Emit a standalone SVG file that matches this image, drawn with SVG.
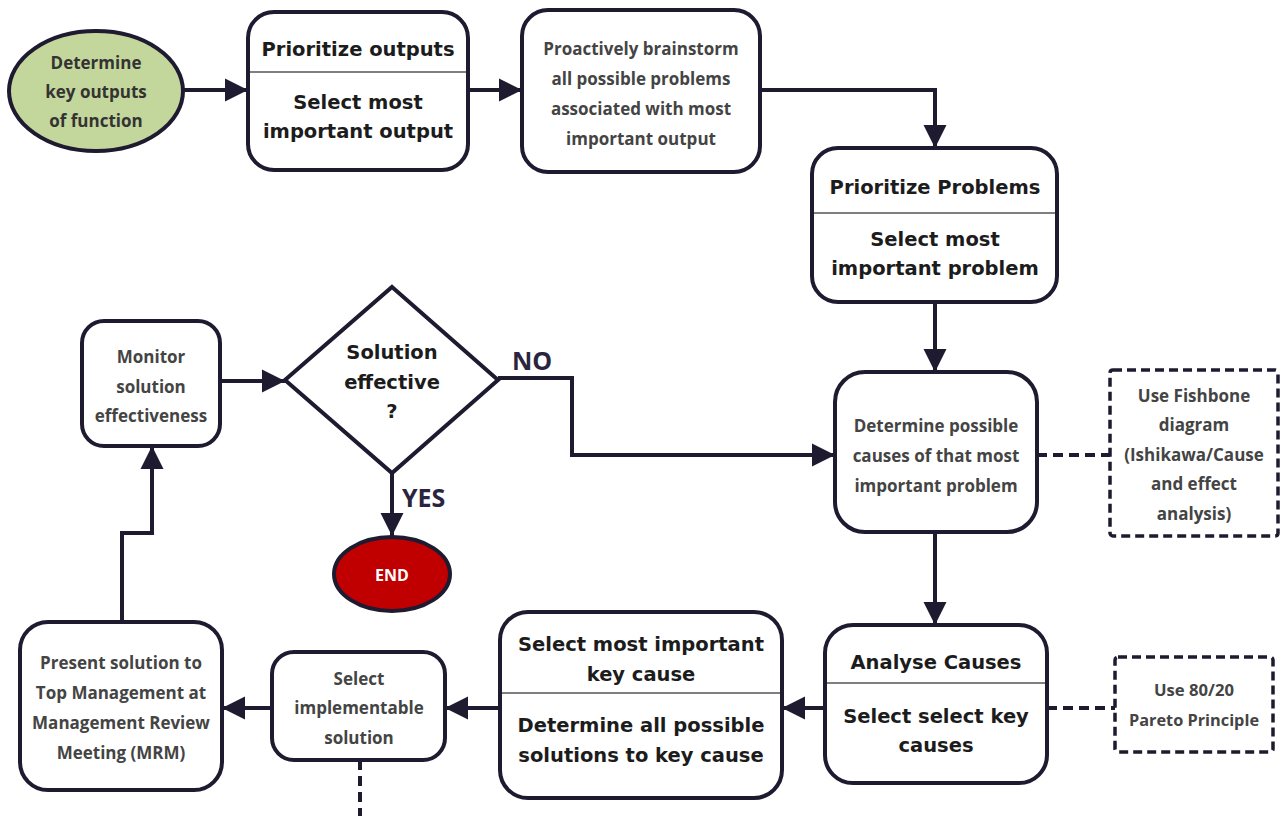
<svg xmlns="http://www.w3.org/2000/svg" width="1285" height="816" viewBox="0 0 1285 816">
  <style>
    .box { fill: #ffffff; stroke: #1e1a30; stroke-width: 4; }
    .note { fill: #ffffff; stroke: #1e1a30; stroke-width: 3.5; stroke-dasharray: 9 5; }
    .div { stroke: #555; stroke-width: 1.5; }
    .wire { fill: none; stroke: #1e1a30; stroke-width: 4; }
    .dash { fill: none; stroke: #1e1a30; stroke-width: 4; stroke-dasharray: 10 6; }
    .t { font-family: "Open Sans", "Liberation Sans", sans-serif; font-weight: 700; font-size: 17px; fill: #444; text-anchor: middle; dominant-baseline: central; }
    .h { font-family: "DejaVu Sans", "Liberation Sans", sans-serif; font-weight: bold; font-size: 19.5px; fill: #1c1c1c; text-anchor: middle; dominant-baseline: central; }
    .lbl { font-family: "Open Sans", "Liberation Sans", sans-serif; font-weight: bold; font-size: 25px; fill: #2a2440; dominant-baseline: central; }
  </style>
  <defs>
    <marker id="arrow" viewBox="0 0 10 10" refX="10" refY="5" markerWidth="5.8" markerHeight="6.2" markerUnits="strokeWidth" orient="auto">
      <path d="M0,0 L10,5 L0,10 z" fill="#1e1a30"/>
    </marker>
  </defs>

  <rect width="1285" height="816" fill="#ffffff"/>

  <!-- connectors -->
  <g id="connectors">
    <path class="wire" d="M183,90 H248" marker-end="url(#arrow)"/>
    <path class="wire" d="M468,90 H522" marker-end="url(#arrow)"/>
    <path class="wire" d="M760,90 H935 V148" marker-end="url(#arrow)"/>
    <path class="wire" d="M935,302 V372" marker-end="url(#arrow)"/>
    <path class="wire" d="M935,532 V625" marker-end="url(#arrow)"/>
    <path class="wire" d="M825,708 H782" marker-end="url(#arrow)"/>
    <path class="wire" d="M500,708 H445" marker-end="url(#arrow)"/>
    <path class="wire" d="M272,708 H222" marker-end="url(#arrow)"/>
    <path class="wire" d="M122,622 V533 H152 V446" marker-end="url(#arrow)"/>
    <path class="wire" d="M220,381 H285" marker-end="url(#arrow)"/>
    <path class="wire" d="M498,378 H572 V455 H835" marker-end="url(#arrow)"/>
    <path class="wire" d="M392,473 V536" marker-end="url(#arrow)"/>
    <path class="dash" d="M1037,455 H1110"/>
    <path class="dash" d="M1047,708 H1115"/>
    <path class="dash" d="M360,760 V816"/>
    <text class="lbl" x="512" y="360">NO</text>
    <text class="lbl" x="402" y="497">YES</text>
  </g>

  <g id="start">
    <ellipse cx="96" cy="91" rx="87" ry="60" fill="#c3d69b" stroke="#1e1a30" stroke-width="4"/>
    <text class="t" x="96" y="62" style="fill:#333">Determine</text>
    <text class="t" x="96" y="91" style="fill:#333">key outputs</text>
    <text class="t" x="96" y="120" style="fill:#333">of function</text>
  </g>

  <g id="prioritize-outputs">
    <rect class="box" x="248" y="12" width="220" height="158" rx="26"/>
    <line class="div" x1="250" y1="72" x2="466" y2="72"/>
    <text class="h" x="358" y="49">Prioritize outputs</text>
    <text class="h" x="358" y="102">Select most</text>
    <text class="h" x="358" y="131">important output</text>
  </g>

  <g id="brainstorm">
    <rect class="box" x="522" y="10" width="238" height="162" rx="26"/>
    <text class="t" x="641" y="48">Proactively brainstorm</text>
    <text class="t" x="641" y="78">all possible problems</text>
    <text class="t" x="641" y="108">associated with most</text>
    <text class="t" x="641" y="138">important output</text>
  </g>

  <g id="prioritize-problems">
    <rect class="box" x="812" y="148" width="245" height="154" rx="26"/>
    <line class="div" x1="814" y1="213" x2="1055" y2="213"/>
    <text class="h" x="935" y="187">Prioritize Problems</text>
    <text class="h" x="935" y="239">Select most</text>
    <text class="h" x="935" y="268">important problem</text>
  </g>

  <g id="possible-causes">
    <rect class="box" x="835" y="372" width="202" height="160" rx="30"/>
    <text class="t" x="936" y="425">Determine possible</text>
    <text class="t" x="936" y="455">causes of that most</text>
    <text class="t" x="936" y="485">important problem</text>
  </g>

  <g id="fishbone-note">
    <rect class="note" x="1110" y="370" width="168" height="166" rx="3"/>
    <text class="t" x="1194" y="395">Use Fishbone</text>
    <text class="t" x="1194" y="424">diagram</text>
    <text class="t" x="1194" y="454">(Ishikawa/Cause</text>
    <text class="t" x="1194" y="483">and effect</text>
    <text class="t" x="1194" y="513">analysis)</text>
  </g>

  <g id="analyse-causes">
    <rect class="box" x="825" y="625" width="222" height="158" rx="28"/>
    <line class="div" x1="827" y1="683" x2="1045" y2="683"/>
    <text class="h" x="936" y="662">Analyse Causes</text>
    <text class="h" x="936" y="716">Select select key</text>
    <text class="h" x="936" y="745">causes</text>
  </g>

  <g id="pareto-note">
    <rect class="note" x="1115" y="657" width="158" height="95" rx="3"/>
    <text class="t" x="1194" y="690" style="font-size:16px" textLength="80" lengthAdjust="spacingAndGlyphs">Use 80/20</text>
    <text class="t" x="1194" y="720" style="font-size:16px" textLength="130" lengthAdjust="spacingAndGlyphs">Pareto Principle</text>
  </g>

  <g id="key-cause">
    <rect class="box" x="500" y="612" width="282" height="186" rx="28"/>
    <line class="div" x1="502" y1="693" x2="780" y2="693"/>
    <text class="h" x="641" y="644">Select most important</text>
    <text class="h" x="641" y="674">key cause</text>
    <text class="h" x="641" y="725">Determine all possible</text>
    <text class="h" x="641" y="755">solutions to key cause</text>
  </g>

  <g id="implementable">
    <rect class="box" x="272" y="652" width="173" height="108" rx="22"/>
    <text class="t" x="359" y="678">Select</text>
    <text class="t" x="359" y="707">implementable</text>
    <text class="t" x="359" y="737">solution</text>
  </g>

  <g id="present">
    <rect class="box" x="20" y="622" width="202" height="168" rx="28"/>
    <text class="t" x="121" y="662">Present solution to</text>
    <text class="t" x="121" y="692">Top Management at</text>
    <text class="t" x="121" y="722">Management Review</text>
    <text class="t" x="121" y="752">Meeting (MRM)</text>
  </g>

  <g id="monitor">
    <rect class="box" x="82" y="321" width="138" height="125" rx="22"/>
    <text class="t" x="151" y="356">Monitor</text>
    <text class="t" x="151" y="386">solution</text>
    <text class="t" x="151" y="415">effectiveness</text>
  </g>

  <g id="decision">
    <polygon class="box" points="392,287 498,380 392,473 285,380"/>
    <text class="h" x="392" y="352">Solution</text>
    <text class="h" x="392" y="382">effective</text>
    <text class="h" x="392" y="411">?</text>
  </g>

  <g id="end">
    <ellipse cx="392" cy="574" rx="58" ry="37" fill="#c00000" stroke="#1e1a30" stroke-width="4"/>
    <text class="t" x="392" y="575" style="fill:#ffffff;font-size:16px">END</text>
  </g>
</svg>
